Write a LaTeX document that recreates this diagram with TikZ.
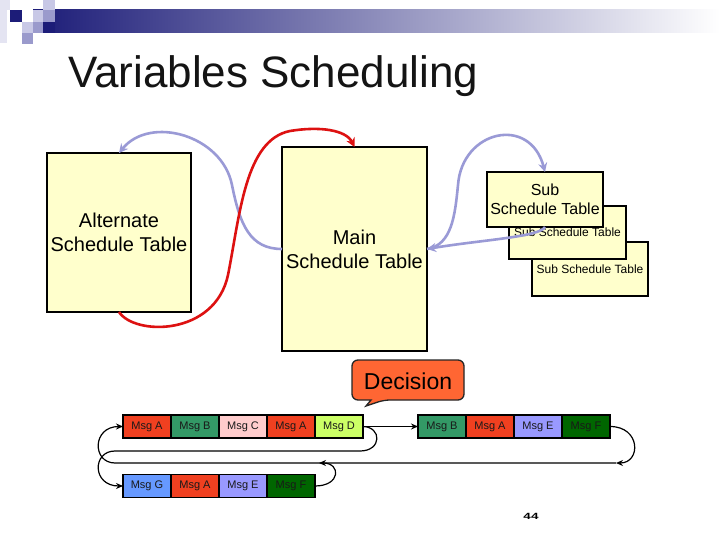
\documentclass[tikz,border=0pt]{standalone}
\usepackage{fontspec}
\setmainfont{Liberation Sans}
\usetikzlibrary{arrows.meta,positioning}
\definecolor{navy}{HTML}{1C1C78}
\definecolor{hdmid}{HTML}{A8A8BE}
\definecolor{sqlight}{HTML}{C8C8E6}
\definecolor{sqmed}{HTML}{9A9ACC}
\definecolor{sqpale}{HTML}{E4E4F2}
\definecolor{tblfill}{HTML}{FFFFCC}
\definecolor{lav}{HTML}{9A9AD6}
\definecolor{redarc}{HTML}{DD1111}
\definecolor{decfill}{HTML}{FF6633}
\definecolor{cA}{HTML}{F04020}
\definecolor{cB}{HTML}{339966}
\definecolor{cC}{HTML}{FFCCCC}
\definecolor{cD}{HTML}{CCFF66}
\definecolor{cG}{HTML}{6699FF}
\definecolor{cE}{HTML}{9999FF}
\definecolor{cF}{HTML}{006600}
\tikzset{
  tbl/.style={draw=black, line width=1.5pt, fill=tblfill, inner sep=0pt, outer sep=0pt, align=center},
  msg/.style={draw=black, line width=1.2pt, minimum width=48pt, minimum height=23pt, inner sep=0pt, outer sep=0pt, font=\fontsize{11}{13}\selectfont, text=black!90},
  conn/.style={draw=black, line width=1.2pt, -{Stealth[length=7pt,width=6pt]}},
  lavarc/.style={draw=lav, line width=2.6pt, -{Stealth[length=9pt,width=9pt]}},
  redline/.style={draw=redarc, line width=2.6pt, -{Stealth[length=9pt,width=9pt]}}
}
\begin{document}
\begin{tikzpicture}[x=1pt,y=-1pt]
\useasboundingbox (0,0) rectangle (720,540);
\fill[white] (0,0) rectangle (720,540);
% header bar and squares
\shade[left color=navy, middle color=hdmid, right color=white] (33,10) rectangle (720,33);
\fill[sqpale] (0,0) rectangle (7,43);
\fill[sqpale] (0,0) rectangle (10,10);
\fill[navy] (10,10) rectangle (22,22);
\fill[sqlight] (22,22) rectangle (33,33);
\fill[sqmed] (22,33) rectangle (33,44);
\fill[sqlight] (33,10) rectangle (43,22);
\fill[sqmed] (33,22) rectangle (43,33);
\fill[sqlight] (43,0) rectangle (55,10);
\fill[sqmed] (43,10) rectangle (55,22);
\fill[navy] (43,22) rectangle (55,33);
% title
\node[anchor=base west, inner sep=0pt, font=\fontsize{44}{50}\selectfont, text=black!92] (title) at (68,88) {Variables Scheduling};
% tables
\node[tbl, minimum width=144pt, minimum height=159pt, font=\fontsize{20}{24}\selectfont] (alt) at (119,232.5) {Alternate\\Schedule Table};
\node[tbl, minimum width=145pt, minimum height=204pt, font=\fontsize{20}{24}\selectfont] (main) at (354.5,249) {Main\\Schedule Table};
\node[tbl, minimum width=116pt, minimum height=54pt, font=\fontsize{12}{14}\selectfont] (subc) at (590,269) {Sub Schedule Table};
\node[tbl, minimum width=117pt, minimum height=53pt, font=\fontsize{12}{14}\selectfont] (subb) at (567.5,232.5) {Sub Schedule Table};
\node[tbl, minimum width=116pt, minimum height=55pt, font=\fontsize{16}{19}\selectfont] (suba) at (545,199.5) {Sub\\Schedule Table};
% arcs
\draw[lavarc] (main.west) .. controls (250,249) and (240,225) .. (232,185) .. controls (222,135) and (150,115) .. (alt.north);
\draw[redline] (alt.south) .. controls (135,336) and (215,336) .. (228,275) .. controls (240,215) and (245,140) .. (290,131) .. controls (320,126) and (346,130) .. (main.north);
\draw[lavarc] (main.east) .. controls (452,245) and (455,215) .. (458,185) .. controls (462,130) and (530,115) .. (suba.north);
\draw[lavarc] (suba.south) .. controls (540,237) and (480,240) .. (main.east);
% decision callout
\draw[line width=1.3pt, draw=black!85, fill=decfill, rounded corners=6pt] (352,380) -- (352,360) -- (464,360) -- (464,400) -- (384,400) [sharp corners] -- (366,406) -- (371,400) [rounded corners=6pt] -- (352,400) -- cycle;
\node[inner sep=0pt, font=\fontsize{23}{26}\selectfont] (dec) at (408,381) {Decision};
% messages row 1
\node[msg, fill=cA] (a1) at (147,426.5) {Msg A};
\node[msg, fill=cB, right=0pt of a1] (b1) {Msg B};
\node[msg, fill=cC, right=0pt of b1] (c1) {Msg C};
\node[msg, fill=cA, right=0pt of c1] (a1b) {Msg A};
\node[msg, fill=cD, right=0pt of a1b] (d1) {Msg D};
% row 2
\node[msg, fill=cB] (b2) at (442,426.5) {Msg B};
\node[msg, fill=cA, right=0pt of b2] (a2) {Msg A};
\node[msg, fill=cE, right=0pt of a2] (e2) {Msg E};
\node[msg, fill=cF, right=0pt of e2] (f2) {Msg F};
% row 3
\node[msg, fill=cG] (g3) at (147,486) {Msg G};
\node[msg, fill=cA, right=0pt of g3] (a3) {Msg A};
\node[msg, fill=cE, right=0pt of a3] (e3) {Msg E};
\node[msg, fill=cF, right=0pt of e3] (f3) {Msg F};
% connectors
\coordinate (ret) at (616,463);
\coordinate (ret3) at (319,463);
\draw[conn] (d1.east) -- (b2.west);
\draw[conn] (d1.east) .. controls (382,427) and (382,451) .. (360,451) -- (115,451) .. controls (92,451) and (92,486) .. (g3.west);
\draw[conn] (f2.east) .. controls (641,426.5) and (641,463) .. (ret);
\draw[conn] (ret) -- (115,463) .. controls (92,463) and (92,426.5) .. (a1.west);
\draw[conn] (f3.east) .. controls (341,486) and (341,463) .. (ret3);
% page number
\node[inner sep=0pt] (pg) at (531,516) {\scalebox{1.5}[1]{\fontsize{9}{9}\selectfont\bfseries 44}};
\end{tikzpicture}
\end{document}
